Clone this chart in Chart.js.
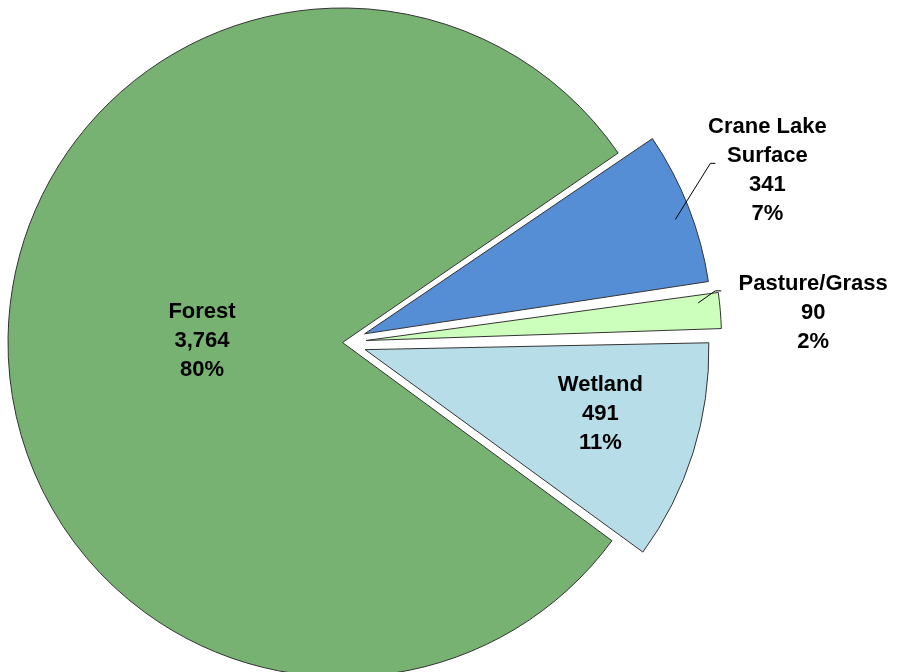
<!DOCTYPE html>
<html>
<head>
<meta charset="utf-8">
<script src="https://cdn.jsdelivr.net/npm/chart.js@4"></script>
<style>
  html, body { margin: 0; padding: 0; background: #fff; overflow: hidden; }
  #wrap { width: 1040px; height: 765px; margin-top: -40px; margin-left: -40px; }
</style>
</head>
<body>
<div id="wrap"><canvas id="chartUso"></canvas></div>
<script>
// datos
const categorias = ["Crane Lake\nSurface", "Pasture/Grass", "Wetland", "Forest"];
const valores = [341, 90, 491, 3764];
const porcentajes = ["7%", "2%", "11%", "80%"];
const colores = ["#558ED5", "#CCFFBB", "#B7DDE8", "#77B273"];

// posicion de etiquetas: [factor de radio, angulo en grados, dentro/fuera]
const posEtiquetas = [
  { r: 1.37, ang: -22, fuera: true },
  { r: 1.41, ang: -3.6, fuera: true },
  { r: 0.80, ang: 15.5, fuera: false },
  { r: 0.42, ang: 180.5, fuera: false }
];

const etiquetasPlugin = {
  id: "etiquetas",
  afterDatasetsDraw(chart) {
    const ctx = chart.ctx;
    const arcs = chart.getDatasetMeta(0).data;
    ctx.save();
    ctx.font = "bold 22px 'Liberation Sans', Arial, sans-serif";
    ctx.fillStyle = "#000";
    ctx.textAlign = "center";
    ctx.textBaseline = "middle";
    arcs.forEach((arc, i) => {
      const p = posEtiquetas[i];
      const a = p.ang * Math.PI / 180;
      const R = arc.outerRadius;
      const cx = arc.x, cy = arc.y;
      const lx = cx + Math.cos(a) * R * p.r;
      const ly = cy + Math.sin(a) * R * p.r;
      const lineas = categorias[i].split("\n").concat([valores[i].toLocaleString("en-US"), porcentajes[i]]);
      const alto = 29;
      const y0 = ly - (lineas.length - 1) * alto / 2;
      lineas.forEach((t, k) => ctx.fillText(t, lx, y0 + k * alto));
      if (p.fuera) {
        ctx.strokeStyle = "#000";
        ctx.lineWidth = 1;
        ctx.beginPath();
        if (i === 0) {
          ctx.moveTo(lx - 92, y0 + 92);
          ctx.lineTo(lx - 57, y0 + 36);
          ctx.lineTo(lx - 52, y0 + 36);
        } else {
          ctx.moveTo(lx - 115, ly - 10);
          ctx.lineTo(lx - 98, ly - 22);
          ctx.lineTo(lx - 92, ly - 22);
        }
        ctx.stroke();
      }
    });
    ctx.restore();
  }
};

new Chart(document.getElementById("chartUso"), {
  type: "pie",
  data: {
    labels: categorias,
    datasets: [{
      label: "Acres",
      data: valores,
      backgroundColor: colores,
      borderColor: "#333",
      borderWidth: 1,
      offset: [95, 95, 95, 0]
    }]
  },
  options: {
    responsive: true,
    maintainAspectRatio: false,
    animation: false,
    rotation: 55.5,
    layout: { padding: { left: 0, right: 275, top: 0, bottom: 0 } },
    plugins: {
      legend: { display: false },
      tooltip: { enabled: false }
    }
  },
  plugins: [etiquetasPlugin]
});
</script>
</body>
</html>
